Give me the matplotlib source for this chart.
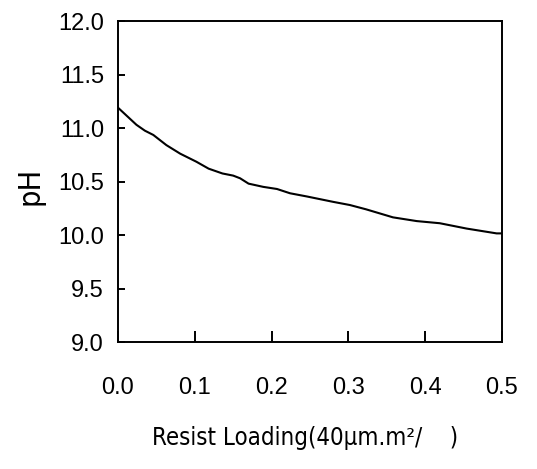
import matplotlib
matplotlib.use("Agg")
import matplotlib.pyplot as plt
from matplotlib import font_manager

# resist loading vs pH
loading = [0.0, 0.024, 0.035, 0.046, 0.063, 0.081, 0.102, 0.118, 0.136, 0.150,
           0.159, 0.170, 0.189, 0.207, 0.224, 0.246, 0.280, 0.302, 0.323, 0.358,
           0.389, 0.419, 0.454, 0.480, 0.493, 0.500]
ph = [11.19, 11.03, 10.975, 10.935, 10.84, 10.76, 10.685, 10.62, 10.575, 10.555,
      10.53, 10.48, 10.45, 10.43, 10.39, 10.36, 10.31, 10.28, 10.24, 10.165,
      10.13, 10.11, 10.06, 10.03, 10.015, 10.015]

xticks = [0.0, 0.1, 0.2, 0.3, 0.4, 0.5]
yticks = [9.0, 9.5, 10.0, 10.5, 11.0, 11.5, 12.0]

# the axis titles in the original are a squeezed font, use a narrow one if there is one
names = {f.name for f in font_manager.fontManager.ttflist}
if "Liberation Sans Narrow" in names:
    narrow, stretch = "Liberation Sans Narrow", "normal"
else:
    narrow, stretch = "DejaVu Sans", "condensed"

plt.rcParams['font.family'] = ['Liberation Sans', 'DejaVu Sans']

fig = plt.figure(figsize=(5.37, 4.69), dpi=100)
ax = fig.add_axes([118/537, 1 - 342/469, 384/537, 321/469])

ax.plot(loading, ph, color='black', lw=1.5)

ax.set_xlim(0, 0.5)
ax.set_ylim(9.0, 12.0)
ax.set_xticks(xticks)
ax.set_yticks(yticks)
ax.set_xticklabels([f"{v:.1f}" for v in xticks])
ax.set_yticklabels([f"{v:.1f}" for v in yticks])
ax.tick_params(axis='x', direction='in', length=8, width=1.4, pad=25, labelsize=17)
ax.tick_params(axis='y', direction='in', length=5, width=1.4, pad=10, labelsize=17)
for s in ax.spines.values():
    s.set_linewidth(1.4)

ylab = fig.text(30/537, 1 - 186/469, "pH", rotation=90, ha='center', va='center',
                fontsize=22, family=[narrow, 'DejaVu Sans'], fontstretch=stretch)
xlab = fig.text(305/537, 1 - 438/469, "Resist Loading(40μm.m²/    )", ha='center', va='center',
                fontsize=22, family=[narrow, 'DejaVu Sans'], fontstretch=stretch)

# shrink the x title until it is about as wide as in the original
r = fig.canvas.get_renderer()
w = xlab.get_window_extent(r).width
if w > 305:
    xlab.set_fontsize(22 * 305 / w)

fig.savefig("out.png", dpi=100)
